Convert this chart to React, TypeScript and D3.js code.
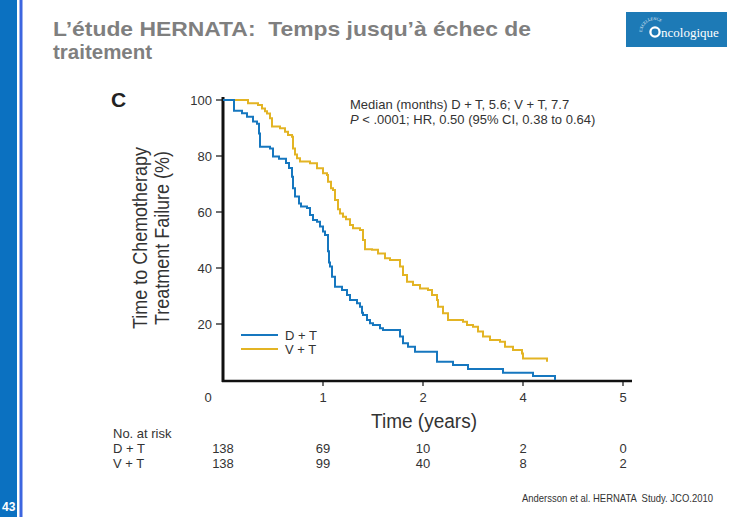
import React from "react";
import * as d3 from "d3";

// ---------- DATA ----------
const titleLines = ["L’étude HERNATA:  Temps jusqu’à échec de", "traitement"];
const panelLetter = "C";
const annotationLine1 = "Median (months) D + T, 5.6; V + T, 7.7";
const annotationLine2Italic = "P";
const annotationLine2Rest = " < .0001; HR, 0.50 (95% CI, 0.38 to 0.64)";
const yLabelLines = ["Time to Chemotherapy", "Treatment Failure (%)"];
const xLabel = "Time (years)";
const xTickPositions = [0, 1, 2, 3, 4];
const xTickLabels = ["0", "1", "2", "4", "5"];
const yTicks = [20, 40, 60, 80, 100];
const seriesNames = ["D + T", "V + T"];
const riskHeader = "No. at risk";
const riskDT = [138, 69, 10, 2, 0];
const riskVT = [138, 99, 40, 8, 2];
const citation = "Andersson et al. HERNATA  Study. JCO.2010";
const slideNumber = "43";
const logoSmall = "EXCELLENCE";
const logoMain = "ncologique";

// Kaplan-Meier steps: [time, value after step]
const dtSteps: [number, number][] = [
  [0, 100], [0.11, 96.2], [0.19, 95.3], [0.24, 94], [0.3, 92.3], [0.34, 91.5],
  [0.36, 88], [0.37, 83.3], [0.47, 82.7], [0.5, 79.8], [0.56, 79], [0.63, 77.5],
  [0.66, 75.7], [0.69, 72.6], [0.7, 68.5], [0.72, 65.5], [0.76, 63], [0.78, 62],
  [0.84, 61.4], [0.87, 58.9], [0.9, 57.1], [0.94, 56.5], [0.97, 54.8], [1.0, 53],
  [1.02, 51.8], [1.05, 46], [1.06, 42], [1.07, 40.5], [1.09, 36.9], [1.12, 33.3],
  [1.19, 32.1], [1.24, 30.4], [1.27, 28.6], [1.34, 27.4], [1.37, 26.2], [1.39, 24],
  [1.4, 23.2], [1.44, 21.4], [1.47, 20.3], [1.5, 19.6], [1.57, 18.5], [1.6, 17.9],
  [1.77, 15.5], [1.8, 13.1], [1.85, 11.9], [1.92, 10.1], [2.14, 6.5], [2.3, 5.4],
  [2.45, 3.9], [2.8, 2.6], [3.1, 1.4], [3.32, 0],
];
const vtSteps: [number, number][] = [
  [0, 100], [0.25, 98.8], [0.35, 98.2], [0.39, 97], [0.42, 96], [0.44, 95.2],
  [0.47, 93.5], [0.49, 90.5], [0.57, 89.9], [0.62, 88.7], [0.65, 87.5], [0.69, 86.9],
  [0.7, 82.7], [0.72, 80.5], [0.74, 79.2], [0.77, 78], [0.87, 77.4], [0.94, 75.6],
  [1.0, 73.8], [1.04, 73.2], [1.05, 70.8], [1.08, 68.5], [1.1, 67.9], [1.12, 64.3],
  [1.15, 61], [1.17, 59.5], [1.2, 58.3], [1.23, 57.4], [1.27, 55.4], [1.3, 54.2],
  [1.37, 53.6], [1.4, 50], [1.42, 46.7], [1.49, 46.5], [1.55, 45.2], [1.62, 43.5],
  [1.67, 42.9], [1.77, 40.5], [1.8, 37.5], [1.84, 35.1], [1.9, 33.9], [1.97, 32.7],
  [2.05, 32.1], [2.09, 30.4], [2.14, 28.6], [2.15, 26.2], [2.2, 23.8], [2.25, 21.4],
  [2.4, 20.8], [2.44, 19.6], [2.5, 19], [2.55, 17.3], [2.6, 15.5], [2.67, 14.3],
  [2.77, 13.7], [2.82, 11.9], [2.9, 10.7], [2.99, 9.5], [3.0, 7.7], [3.24, 6.5],
];

// ---------- STYLE ----------
const W = 747;
const H = 517;
const BLUE = "#1677bf";
const GOLD = "#e3b424";
const FONT = "'Liberation Sans', Arial, sans-serif";

export default function App() {
  const x = d3.scaleLinear().domain([0, 4.09]).range([223, 632]);
  const y = d3.scaleLinear().domain([0, 100]).range([380, 100]);
  const line = d3
    .line<[number, number]>()
    .x((d) => x(d[0]))
    .y((d) => y(d[1]))
    .curve(d3.curveStepAfter);

  const riskRows = [riskDT, riskVT];

  // logo arc (over the "O")
  const arc = d3.path();
  arc.arc(654, 32, 12, Math.PI, Math.PI * 1.68, false);

  return (
    <svg
      width={W}
      height={H}
      viewBox={`0 0 ${W} ${H}`}
      style={{ position: "absolute", left: 0, top: 0, background: "#fff" }}
      fontFamily={FONT}
    >
      <rect x={0} y={0} width={W} height={H} fill="#fff" />
      {/* left slide band */}
      <rect x={0} y={0} width={17} height={H} fill="#0b71c1" />
      <rect x={19.5} y={0} width={3} height={H} fill="#3d66e0" />
      <text x={2} y={511} fill="#fff" fontWeight="bold" fontSize={12}>
        {slideNumber}
      </text>

      {/* title */}
      <text x={53} y={36} fill="#7f7f7f" fontWeight="bold" fontSize={20.5}
        textLength={478} lengthAdjust="spacingAndGlyphs" style={{ whiteSpace: "pre" }}>
        {titleLines[0]}
      </text>
      <text x={53} y={59} fill="#7f7f7f" fontWeight="bold" fontSize={20.5}>
        {titleLines[1]}
      </text>

      {/* logo */}
      <rect x={626} y={12} width={101} height={35} fill="#1d7ab6" />
      <defs>
        <path id="logoArc" d={arc.toString()} />
      </defs>
      <text fontSize={4} fill="#fff" fontFamily="'Liberation Serif', serif">
        <textPath href="#logoArc">{logoSmall}</textPath>
      </text>
      <circle cx={655} cy={32} r={4.6} fill="none" stroke="#fff" strokeWidth={2.3} />
      <text x={661} y={36.5} fill="#fff" fontSize={13} fontFamily="'Liberation Serif', serif">
        {logoMain}
      </text>

      {/* panel letter */}
      <text x={111} y={107} fontWeight="bold" fontSize={21} fill="#222">
        {panelLetter}
      </text>

      {/* annotation */}
      <text x={350} y={109} fontSize={13} fill="#333">{annotationLine1}</text>
      <text x={350} y={124} fontSize={13} fill="#333">
        <tspan fontStyle="italic">{annotationLine2Italic}</tspan>
        <tspan>{annotationLine2Rest}</tspan>
      </text>

      {/* y axis label */}
      {yLabelLines.map((t, i) => (
        <text
          key={t}
          transform={`translate(${147 + i * 22},238) rotate(-90)`}
          textAnchor="middle"
          fontSize={20}
          fill="#333"
          textLength={i === 0 ? 182 : 174}
          lengthAdjust="spacingAndGlyphs"
        >
          {t}
        </text>
      ))}

      {/* y ticks */}
      {yTicks.map((v) => (
        <g key={v}>
          <line x1={216} x2={222} y1={y(v)} y2={y(v)} stroke="#222" strokeWidth={1.3} />
          <text x={212} y={y(v) + 4.5} textAnchor="end" fontSize={13} fill="#333">
            {v}
          </text>
        </g>
      ))}

      {/* x ticks */}
      {xTickPositions.map((p, i) => (
        <g key={p}>
          {p > 0 && (
            <line x1={x(p)} x2={x(p)} y1={380} y2={386} stroke="#222" strokeWidth={1.3} />
          )}
          <text x={p === 0 ? x(p) - 15 : x(p)} y={402} textAnchor="middle" fontSize={13} fill="#333">
            {xTickLabels[i]}
          </text>
        </g>
      ))}

      {/* axes */}
      <line x1={223} x2={223} y1={97} y2={382} stroke="#111" strokeWidth={3} />
      <line x1={222} x2={x(4.09)} y1={381} y2={381} stroke="#111" strokeWidth={2.4} />

      {/* curves */}
      <path d={line(vtSteps) || ""} fill="none" stroke={GOLD} strokeWidth={2} />
      <path d={line(dtSteps) || ""} fill="none" stroke={BLUE} strokeWidth={2} />

      {/* legend */}
      {seriesNames.map((n, i) => (
        <g key={n}>
          <line x1={241} x2={278} y1={335 + i * 14} y2={335 + i * 14}
            stroke={i === 0 ? BLUE : GOLD} strokeWidth={2} />
          <text x={285} y={340 + i * 14} fontSize={13} fill="#333">{n}</text>
        </g>
      ))}

      {/* x label */}
      <text x={424} y={428} textAnchor="middle" fontSize={20} fill="#333"
        textLength={106} lengthAdjust="spacingAndGlyphs">
        {xLabel}
      </text>

      {/* number at risk */}
      <text x={113} y={438} fontSize={13} fill="#333">{riskHeader}</text>
      {riskRows.map((row, r) => (
        <g key={r}>
          <text x={113} y={453 + r * 15} fontSize={13} fill="#333">{seriesNames[r]}</text>
          {row.map((v, i) => (
            <text key={i} x={x(xTickPositions[i])} y={453 + r * 15} textAnchor="middle"
              fontSize={13} fill="#333">
              {v}
            </text>
          ))}
        </g>
      ))}

      {/* citation */}
      <text x={522} y={502} fontSize={10.5} fill="#333" textLength={191}
        lengthAdjust="spacingAndGlyphs" style={{ whiteSpace: "pre" }}>
        {citation}
      </text>
    </svg>
  );
}
